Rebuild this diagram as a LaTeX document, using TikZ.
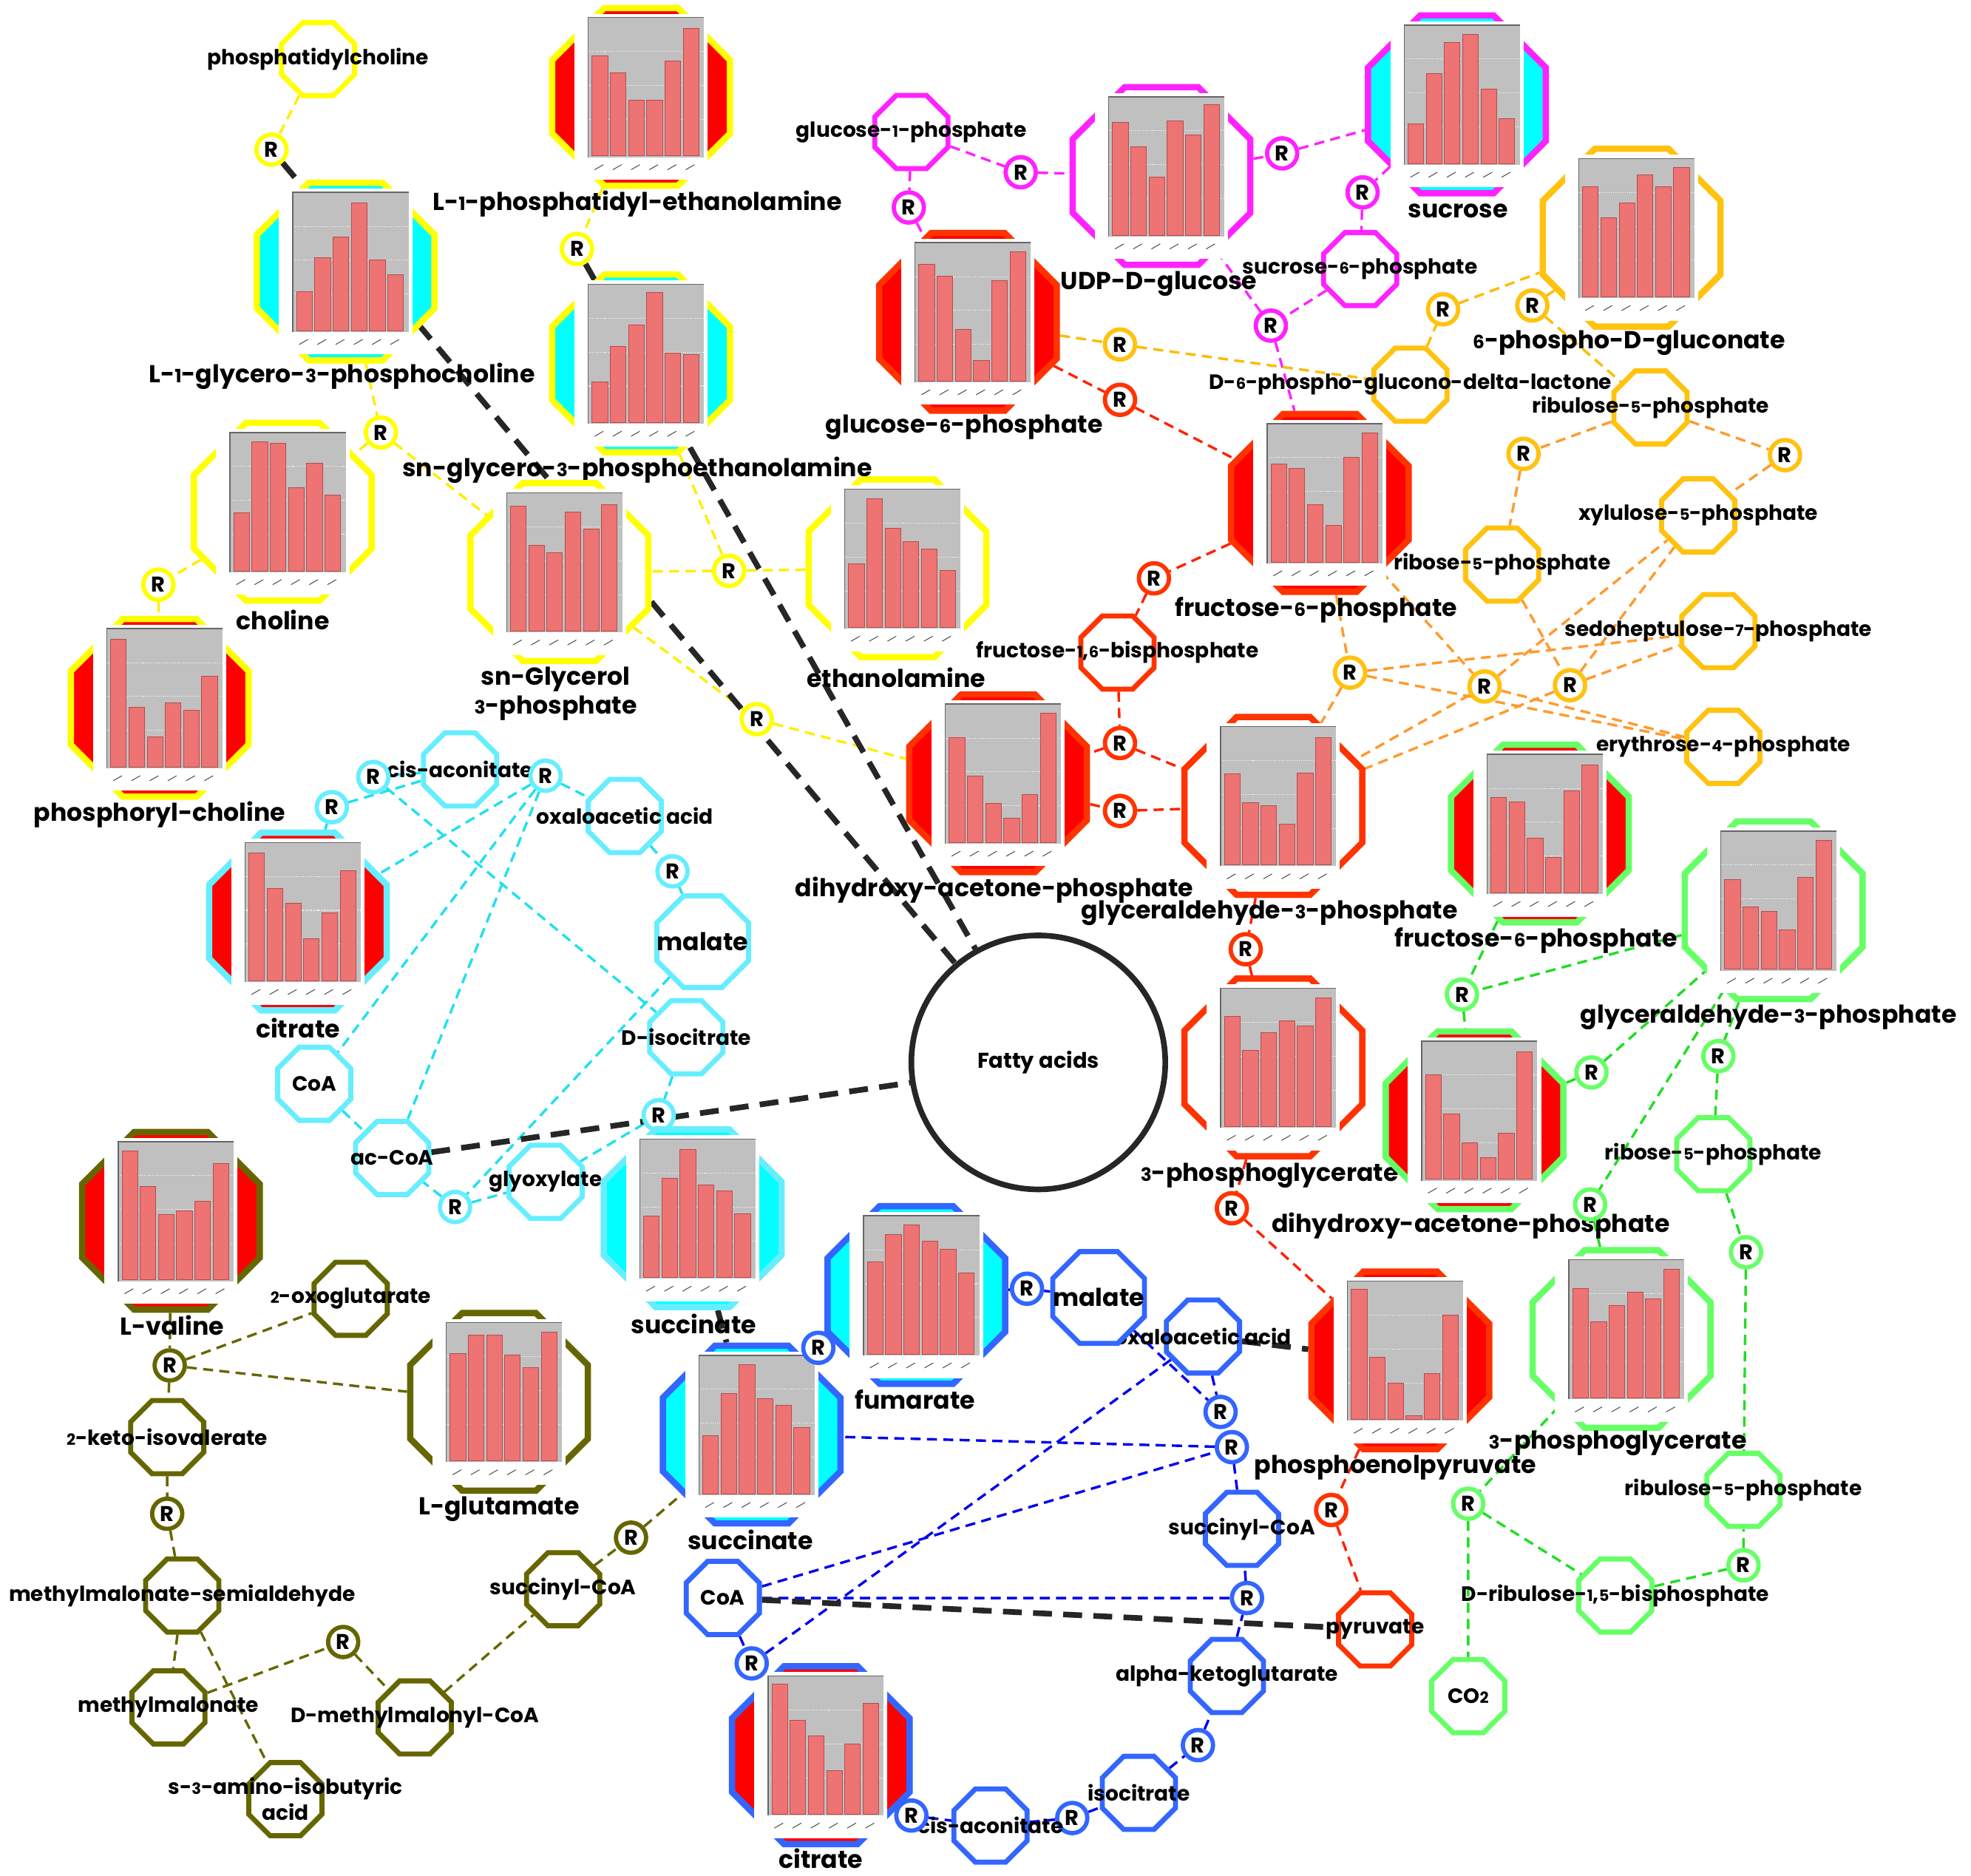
\documentclass[tikz,border=0pt]{standalone}
\usepackage{fontspec}
\setmainfont{Poppins}
\usepackage{graphicx}
\usetikzlibrary{shapes.geometric}
\pgfdeclarelayer{background}
\pgfsetlayers{background,main}

\definecolor{yel}{HTML}{FFFF00}
\definecolor{yelline}{HTML}{FFEE00}
\definecolor{mag}{HTML}{FF22FF}
\definecolor{redring}{HTML}{FF3300}
\definecolor{redline}{HTML}{FF2200}
\definecolor{redfill}{HTML}{FF0000}
\definecolor{cyanfill}{HTML}{00FFFF}
\definecolor{ppp}{HTML}{FFC20E}
\definecolor{pppline}{HTML}{FFBB00}
\definecolor{orline}{HTML}{FF9A2E}
\definecolor{grn}{HTML}{66FF66}
\definecolor{grnline}{HTML}{22DD22}
\definecolor{cyn}{HTML}{66EEFF}
\definecolor{cynline}{HTML}{22E0EE}
\definecolor{blu}{HTML}{3366FF}
\definecolor{bluline}{HTML}{0000EE}
\definecolor{olv}{HTML}{666600}
\definecolor{plotgray}{HTML}{C0C0C0}
\definecolor{barred}{HTML}{EE7373}
\definecolor{baredge}{HTML}{B34D4D}

\newcommand{\bigfont}{\fontsize{19.5}{23}\selectfont\bfseries}
\newcommand{\smallfont}{\fontsize{16.5}{19}\selectfont\bfseries}
\newcommand{\rfont}{\fontsize{17}{17}\selectfont\bfseries}
\newcommand{\osd}[1]{\scalebox{0.75}{#1}} % small digits
\newcommand{\wide}[1]{\makebox[0pt]{#1}} % text wider than its octagon

% bar chart drawn over a metabolite node
\newcommand{\barchart}[2]{%
  \begin{scope}[shift={(#1.center)}]
    \fill[white] (-53,-66) rectangle (53,66);
    \fill[plotgray] (-42,-63) rectangle (50,48);
    \foreach \g in {-36,-9,18}
      \draw[white, densely dotted, line width=0.6pt] (-42,\g) -- (50,\g);
    \draw[black!60, line width=0.8pt] (-42,48) -- (-42,-63) -- (50,-63);
    \foreach \h [count=\i] in {#2}
      \filldraw[fill=barred, draw=baredge, line width=0.5pt]
        ({-39+(\i-1)*14.5},47) rectangle ({-26.5+(\i-1)*14.5},{47-\h*108});
    \foreach \i in {0,...,5}
      \draw[black!70, line width=0.6pt] ({-37+\i*14.5},58) -- ++(7,-4);
  \end{scope}}

\tikzset{
big/.style={regular polygon, regular polygon sides=8, minimum size=153pt, inner sep=0pt, line width=5pt}, % metabolite with a chart
small/.style={regular polygon, regular polygon sides=8, minimum size=63pt, inner sep=0pt, line width=4pt, fill=white, font=\smallfont}, % metabolite without a chart
mid/.style={small, minimum size=79pt, font=\bigfont}, % the two malate nodes
rxn/.style={circle, minimum size=24pt, inner sep=0pt, line width=3.4pt, fill=white, font=\rfont}, % reaction
biglbl/.style={font=\bigfont, inner sep=0pt, align=center},
link/.style={draw=#1, line width=2pt, dash pattern=on 8pt off 5pt},
blk/.style={draw=black!85, line width=4.5pt, dash pattern=on 15pt off 9pt},
}

\begin{document}
\begin{tikzpicture}[x=1pt, y=-1pt]
\useasboundingbox (0,0) rectangle (1568,1492);

% phospholipids
\node[small, draw=yel] (pc) at (253,47) {\wide{phosphatidylcholine}};
\node[rxn, draw=yel] (ra) at (216,119) {R};
\node[big, draw=yel, fill=cyanfill] (lgpc) at (275,216) {};
\barchart{lgpc}{.29,.54,.69,.94,.52,.41}
\node[biglbl] (lgpc-t) at (272,299) {L-\osd1-glycero-\osd3-phosphocholine};
\node[big, draw=yel, fill=redfill] (lpe) at (510,77) {};
\barchart{lpe}{.74,.61,.41,.41,.70,.94}
\node[biglbl] (lpe-t) at (507,162) {L-\osd1-phosphatidyl-ethanolamine};
\node[rxn, draw=yel] (rb) at (459,198) {R};
\node[big, draw=yel, fill=cyanfill] (sngpe) at (510,289) {};
\barchart{sngpe}{.30,.56,.72,.96,.51,.50}
\node[biglbl] (sngpe-t) at (507,374) {sn-glycero-\osd3-phosphoethanolamine};
\node[rxn, draw=yel] (rc) at (303,344) {R};
\node[big, draw=yel, fill=white] (chol) at (225,407) {};
\barchart{chol}{.43,.95,.94,.61,.79,.56}
\node[biglbl] (chol-t) at (225,493) {choline};
\node[rxn, draw=yel] (rd) at (126,465) {R};
\node[big, draw=yel, fill=redfill] (phch) at (127,563) {};
\barchart{phch}{.94,.44,.22,.47,.42,.67}
\node[biglbl] (phch-t) at (127,648) {phosphoryl-choline};
\node[big, draw=yel, fill=white] (sng3p) at (445,455) {};
\barchart{sng3p}{.92,.63,.58,.88,.75,.93}
\node[biglbl] (sng3p-t) at (442,552) {sn-Glycerol\\\osd3-phosphate};
\node[rxn, draw=yel] (re) at (580,454) {R};
\node[big, draw=yel, fill=white] (eth) at (714,452) {};
\barchart{eth}{.47,.95,.73,.63,.58,.42}
\node[biglbl] (eth-t) at (713,539) {ethanolamine};
\node[rxn, draw=yel] (rf) at (602,572) {R};

% sugars
\node[small, draw=mag] (g1p) at (725,105) {\wide{glucose-\osd1-phosphate}};
\node[rxn, draw=mag] (rg1) at (723,165) {R};
\node[rxn, draw=mag] (rg2) at (812,137) {R};
\node[big, draw=mag, fill=white] (udpg) at (924,140) {};
\barchart{udpg}{.83,.65,.43,.84,.74,.96}
\node[biglbl] (udpg-t) at (922,226) {UDP-D-glucose};
\node[rxn, draw=mag] (rg3) at (1020,122) {R};
\node[big, draw=mag, fill=cyanfill] (sucr) at (1159,83) {};
\barchart{sucr}{.29,.66,.89,.95,.55,.33}
\node[biglbl] (sucr-t) at (1160,168) {sucrose};
\node[rxn, draw=mag] (rg4) at (1084,153) {R};
\node[small, draw=mag] (s6p) at (1082,214) {\wide{sucrose-\osd6-phosphate}};
\node[rxn, draw=mag] (rg5) at (1011,259) {R};

% glycolysis
\node[big, draw=redring, fill=redfill] (g6p) at (770,256) {};
\barchart{g6p}{.86,.77,.38,.15,.74,.95}
\node[biglbl] (g6p-t) at (767,340) {glucose-\osd6-phosphate};
\node[rxn, draw=redring] (rp2) at (891,318) {R};
\node[big, draw=redring, fill=redfill] (f6p) at (1050,400) {};
\barchart{f6p}{.72,.69,.42,.27,.77,.95}
\node[biglbl] (f6p-t) at (1047,485) {fructose-\osd6-phosphate};
\node[rxn, draw=redring] (rr1) at (918,460) {R};
\node[small, draw=redring] (fbp) at (889,519) {\wide{fructose-\osd1,\osd6-bisphosphate}};
\node[rxn, draw=redring] (rr2) at (891,591) {R};
\node[rxn, draw=redring] (rr3) at (891,645) {R};
\node[big, draw=redring, fill=redfill] (dhap) at (794,623) {};
\barchart{dhap}{.77,.49,.29,.18,.35,.95}
\node[biglbl] (dhap-t) at (791,708) {dihydroxy-acetone-phosphate};
\node[big, draw=redring, fill=white] (gap) at (1013,641) {};
\barchart{gap}{.67,.46,.44,.30,.68,.94}
\node[biglbl] (gap-t) at (1010,726) {glyceraldehyde-\osd3-phosphate};
\node[rxn, draw=redring] (rr4) at (991,755) {R};
\node[big, draw=redring, fill=white] (pga) at (1013,849) {};
\barchart{pga}{.81,.56,.69,.78,.74,.95}
\node[biglbl] (pga-t) at (1010,935) {\osd3-phosphoglycerate};
\node[rxn, draw=redring] (rr5) at (980,961) {R};
\node[big, draw=redring, fill=redfill] (pep) at (1114,1082) {};
\barchart{pep}{.96,.46,.27,.03,.34,.77}
\node[biglbl] (pep-t) at (1110,1167) {phosphoenolpyruvate};
\node[rxn, draw=redring] (rr6) at (1059,1201) {R};
\node[small, draw=redring] (pyr) at (1094,1296) {\wide{pyruvate}};

% pentose phosphate
\node[rxn, draw=ppp] (rp1) at (891,274) {R};
\node[small, draw=ppp] (dpgl) at (1122,306) {\wide{D-\osd6-phospho-glucono-delta-lactone}};
\node[rxn, draw=ppp] (rp3) at (1148,246) {R};
\node[big, draw=ppp, fill=white] (pgn) at (1298,189) {};
\barchart{pgn}{.81,.58,.69,.90,.81,.95}
\node[biglbl] (pgn-t) at (1296,273) {\osd6-phospho-D-gluconate};
\node[rxn, draw=ppp] (rp4) at (1219,243) {R};
\node[small, draw=ppp] (ru5p) at (1313,324) {\wide{ribulose-\osd5-phosphate}};
\node[rxn, draw=ppp] (rp5) at (1212,361) {R};
\node[rxn, draw=ppp] (rp6) at (1420,362) {R};
\node[small, draw=ppp] (x5p) at (1351,410) {\wide{xylulose-\osd5-phosphate}};
\node[small, draw=ppp] (r5p) at (1195,449) {\wide{ribose-\osd5-phosphate}};
\node[small, draw=ppp] (s7p) at (1367,502) {\wide{sedoheptulose-\osd7-phosphate}};
\node[small, draw=ppp] (e4p) at (1371,594) {\wide{erythrose-\osd4-phosphate}};
\node[rxn, draw=ppp] (rp7) at (1074,535) {R};
\node[rxn, draw=ppp] (rp8) at (1181,546) {R};
\node[rxn, draw=ppp] (rp9) at (1249,545) {R};

% calvin cycle
\node[big, draw=grn, fill=redfill] (f6pg) at (1225,663) {};
\barchart{f6pg}{.70,.67,.40,.26,.75,.94}
\node[biglbl] (f6pg-t) at (1222,748) {fructose-\osd6-phosphate};
\node[big, draw=grn, fill=white] (gapg) at (1411,724) {};
\barchart{gapg}{.66,.46,.43,.29,.68,.95}
\node[biglbl] (gapg-t) at (1407,809) {glyceraldehyde-\osd3-phosphate};
\node[rxn, draw=grn] (rc1) at (1163,791) {R};
\node[big, draw=grn, fill=redfill] (dhapg) at (1173,891) {};
\barchart{dhapg}{.77,.48,.27,.16,.34,.94}
\node[biglbl] (dhapg-t) at (1170,975) {dihydroxy-acetone-phosphate};
\node[rxn, draw=grn] (rc2) at (1266,853) {R};
\node[rxn, draw=grn] (rc3) at (1367,840) {R};
\node[small, draw=grn] (r5pg) at (1363,918) {\wide{ribose-\osd5-phosphate}};
\node[rxn, draw=grn] (rc4) at (1265,958) {R};
\node[rxn, draw=grn] (rc5) at (1389,996) {R};
\node[big, draw=grn, fill=white] (pgag) at (1290,1065) {};
\barchart{pgag}{.81,.56,.68,.78,.73,.95}
\node[biglbl] (pgag-t) at (1287,1148) {\osd3-phosphoglycerate};
\node[small, draw=grn] (ru5pg) at (1387,1185) {\wide{ribulose-\osd5-phosphate}};
\node[rxn, draw=grn] (rc6) at (1168,1196) {R};
\node[rxn, draw=grn] (rc7) at (1387,1245) {R};
\node[small, draw=grn] (rubp) at (1285,1269) {\wide{D-ribulose-\osd1,\osd5-bisphosphate}};
\node[small, draw=grn] (co2) at (1168,1349) {CO\osd2};

% glyoxylate cycle
\node[big, draw=cyn, fill=redfill] (citc) at (237,733) {};
\barchart{citc}{.94,.68,.57,.31,.50,.81}
\node[biglbl] (citc-t) at (237,818) {citrate};
\node[rxn, draw=cyn] (ry2) at (264,642) {R};
\node[small, draw=cyn] (cisac) at (366,612) {\wide{cis-aconitate}};
\node[rxn, draw=cyn] (ry1) at (297,618) {R};
\node[rxn, draw=cyn] (ry3) at (434,617) {R};
\node[small, draw=cyn] (oaac) at (497,649) {\wide{oxaloacetic acid}};
\node[rxn, draw=cyn] (ry4) at (535,693) {R};
\node[mid, draw=cyn] (malc) at (559,749) {\wide{malate}};
\node[small, draw=cyn] (disoc) at (546,825) {\wide{D-isocitrate}};
\node[rxn, draw=cyn] (ry5) at (524,887) {R};
\node[small, draw=cyn] (coac) at (250,862) {\wide{CoA}};
\node[small, draw=cyn] (acoa) at (312,921) {\wide{ac-CoA}};
\node[rxn, draw=cyn] (ry6) at (362,960) {R};
\node[small, draw=cyn] (glyox) at (434,940) {\wide{glyoxylate}};
\node[big, draw=cyn, fill=cyanfill] (succc) at (551,969) {};
\barchart{succc}{.45,.73,.94,.68,.64,.47}
\node[biglbl] (succc-t) at (552,1053) {succinate};

% citric acid cycle
\node[big, draw=blu, fill=cyanfill] (fum) at (729,1030) {};
\barchart{fum}{.68,.88,.95,.83,.77,.60}
\node[biglbl] (fum-t) at (728,1113) {fumarate};
\node[rxn, draw=blu] (rb1) at (817,1025) {R};
\node[small, draw=blu] (oaab) at (957,1063) {\wide{oxaloacetic acid}};
\node[mid, draw=blu] (malb) at (874,1032) {\wide{malate}};
\node[rxn, draw=blu] (rb2) at (971,1123) {R};
\node[rxn, draw=blu] (rb3) at (980,1151) {R};
\node[small, draw=blu] (succoa) at (988,1216) {\wide{succinyl-CoA}};
\node[rxn, draw=blu] (rb4) at (992,1271) {R};
\node[small, draw=blu] (akg) at (976,1333) {\wide{alpha-ketoglutarate}};
\node[rxn, draw=blu] (rb5) at (953,1388) {R};
\node[small, draw=blu] (isoc) at (906,1426) {\wide{isocitrate}};
\node[rxn, draw=blu] (rb6) at (853,1446) {R};
\node[small, draw=blu] (cisab) at (788,1452) {\wide{cis-aconitate}};
\node[rxn, draw=blu] (rb7) at (725,1444) {R};
\node[big, draw=blu, fill=redfill] (citb) at (653,1396) {};
\barchart{citb}{.96,.69,.58,.32,.52,.82}
\node[biglbl] (citb-t) at (653,1478) {citrate};
\node[rxn, draw=blu] (rb8) at (598,1323) {R};
\node[small, draw=blu] (coab) at (575,1271) {\wide{CoA}};
\node[big, draw=blu, fill=cyanfill] (succb) at (598,1141) {};
\barchart{succb}{.43,.74,.95,.70,.65,.49}
\node[biglbl] (succb-t) at (597,1225) {succinate};
\node[rxn, draw=blu] (rb9) at (651,1072) {R};

% valine degradation
\node[big, draw=olv, fill=redfill] (val) at (136,971) {};
\barchart{val}{.95,.69,.48,.51,.58,.86}
\node[biglbl] (val-t) at (137,1054) {L-valine};
\node[rxn, draw=olv] (ro1) at (135,1086) {R};
\node[small, draw=olv] (oxg) at (279,1033) {\wide{\osd2-oxoglutarate}};
\node[big, draw=olv, fill=white] (glu) at (397,1115) {};
\barchart{glu}{.79,.93,.93,.78,.69,.95}
\node[biglbl] (glu-t) at (397,1200) {L-glutamate};
\node[small, draw=olv] (kiv) at (133,1143) {\wide{\osd2-keto-isovalerate}};
\node[rxn, draw=olv] (ro2) at (133,1204) {R};
\node[small, draw=olv] (mmsa) at (145,1269) {\wide{methylmalonate-semialdehyde}};
\node[small, draw=olv] (mma) at (134,1358) {\wide{methylmalonate}};
\node[rxn, draw=olv] (ro3) at (273,1306) {R};
\node[small, draw=olv] (dmm) at (330,1366) {\wide{D-methylmalonyl-CoA}};
\node[small, draw=olv] (succo) at (448,1264) {\wide{succinyl-CoA}};
\node[rxn, draw=olv] (ro4) at (502,1223) {R};
\node[small, draw=olv] (aiba) at (227,1431) {\wide{\shortstack{s-\osd3-amino-isobutyric\\acid}}};

\node[circle, draw=black!85, line width=4.5pt, minimum size=202pt, fill=white, font=\fontsize{17}{17}\selectfont\bfseries] (fa) at (826,845) {Fatty acids};

\begin{pgfonlayer}{background}
\fill[white] (0,0) rectangle (1568,1492);
\draw[link=yelline] (pc) -- (ra) (lgpc) -- (rc) (rc) -- (chol) (rc) -- (sng3p) (chol) -- (rd) (rd) -- (phch)
  (lpe) -- (rb) (sngpe) -- (re) (re) -- (eth) (re) -- (sng3p) (sng3p) -- (rf) (rf) -- (dhap);
\draw[link=mag] (g1p) -- (rg1) (rg1) -- (g6p) (g1p) -- (rg2) (rg2) -- (udpg) (udpg) -- (rg3) (rg3) -- (sucr)
  (sucr) -- (rg4) (rg4) -- (s6p) (s6p) -- (rg5) (udpg) -- (rg5) (rg5) -- (f6p);
\draw[link=redline] (g6p) -- (rp2) (rp2) -- (f6p) (f6p) -- (rr1) (rr1) -- (fbp) (fbp) -- (rr2) (rr2) -- (dhap)
  (rr2) -- (gap) (dhap) -- (rr3) (rr3) -- (gap) (gap) -- (rr4) (rr4) -- (pga) (pga) -- (rr5) (rr5) -- (pep)
  (pep) -- (rr6) (rr6) -- (pyr);
\draw[link=pppline] (g6p) -- (rp1) (rp1) -- (dpgl) (dpgl) -- (rp3) (rp3) -- (pgn) (pgn) -- (rp4) (rp4) -- (ru5p);
\draw[link=orline] (ru5p) -- (rp5) (rp5) -- (r5p) (ru5p) -- (rp6) (rp6) -- (x5p)
  (f6p) -- (rp7) (rp7) -- (gap) (rp7) -- (s7p) (rp7) -- (e4p)
  (f6p) -- (rp8) (rp8) -- (x5p) (rp8) -- (gap) (rp8) -- (e4p)
  (r5p) -- (rp9) (rp9) -- (s7p) (rp9) -- (x5p) (rp9) -- (gap);
\draw[link=grnline] (f6pg) -- (rc1) (rc1) -- (dhapg) (gapg) -- (rc1) (dhapg) -- (rc2) (rc2) -- (gapg)
  (gapg) -- (rc3) (rc3) -- (r5pg) (gapg) -- (rc4) (rc4) -- (pgag) (pgag) -- (rc6) (rc6) -- (co2)
  (rc6) -- (rubp) (rubp) -- (rc7) (rc7) -- (ru5pg) (r5pg) -- (rc5) (rc5) -- (ru5pg);
\draw[link=cynline] (citc) -- (ry2) (ry2) -- (cisac) (cisac) -- (ry1) (ry1) -- (disoc)
  (ry3) -- (oaac) (ry3) -- (citc) (ry3) -- (coac) (ry3) -- (acoa) (oaac) -- (ry4) (ry4) -- (malc)
  (malc) -- (ry6) (ry6) -- (acoa) (ry6) -- (glyox) (disoc) -- (ry5) (ry5) -- (glyox) (ry5) -- (succc)
  (coac) -- (acoa);
\draw[link=bluline] (succb) -- (rb9) (rb9) -- (fum) (fum) -- (rb1) (rb1) -- (malb) (malb) -- (rb2) (oaab) -- (rb2)
  (oaab) -- (rb8) (rb8) -- (citb) (coab) -- (rb8) (citb) -- (rb7) (rb7) -- (cisab) (cisab) -- (rb6)
  (rb6) -- (isoc) (isoc) -- (rb5) (rb5) -- (akg) (akg) -- (rb4) (rb4) -- (succoa) (coab) -- (rb4)
  (succoa) -- (rb3) (rb3) -- (succb) (coab) -- (rb3);
\draw[link=olv] (val) -- (ro1) (ro1) -- (oxg) (ro1) -- (glu) (ro1) -- (kiv) (kiv) -- (ro2) (ro2) -- (mmsa)
  (mmsa) -- (mma) (mmsa) -- (aiba) (mma) -- (ro3) (ro3) -- (dmm) (dmm) -- (succo) (succo) -- (ro4) (ro4) -- (succb);
\draw[blk] (ra) -- (fa.130) (rb) -- (fa.119) (acoa) -- (fa.189) (coab) -- (pyr) (oaab) -- (pep) (succc) -- (succb);
\end{pgfonlayer}
\end{tikzpicture}
\end{document}
